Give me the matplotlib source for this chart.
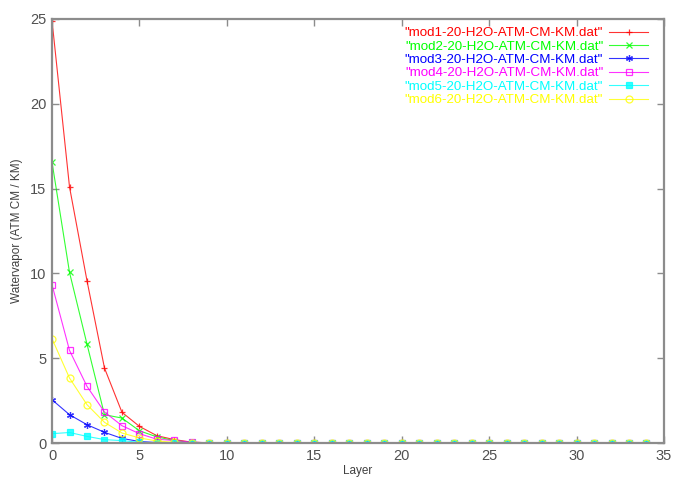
#!/usr/bin/env python3
"""Water vapour density per layer for the six standard atmosphere models."""

import numpy as np
import matplotlib
matplotlib.use("Agg")
import matplotlib.pyplot as plt

plt.rcParams['font.family'] = ['Liberation Sans', 'DejaVu Sans']

layers = np.arange(35)

# values for the lowest layers, everything above is zero
mod1 = [24.9, 15.1, 9.57, 4.42, 1.81, 0.98, 0.43, 0.2, 0.05, 0.01] + [0.0] * 25
mod2 = [16.56, 10.06, 5.83, 1.67, 1.47, 0.72, 0.36, 0.14, 0.04, 0.01] + [0.0] * 25
mod3 = [2.55, 1.67, 1.08, 0.63, 0.27, 0.09, 0.03, 0.01, 0.0, 0.0] + [0.0] * 25
mod4 = [9.33, 5.46, 3.34, 1.83, 1.02, 0.55, 0.22, 0.15, 0.05, 0.01] + [0.0] * 25
mod5 = [0.55, 0.62, 0.39, 0.2, 0.14, 0.04, 0.02, 0.0, 0.0, 0.0] + [0.0] * 25
mod6 = [6.15, 3.83, 2.26, 1.22, 0.59, 0.3, 0.12, 0.04, 0.01, 0.0] + [0.0] * 25

labels = ['"mod%d-20-H2O-ATM-CM-KM.dat"' % i for i in range(1, 7)]
series = [mod1, mod2, mod3, mod4, mod5, mod6]

# gnuplot default line types
styles = [
    dict(color='#ff0000', marker='+', mfc='none'),
    dict(color='#00ff00', marker='x', mfc='none'),
    dict(color='#0000ff', marker=(6, 2, 0), mfc='none'),
    dict(color='#ff00ff', marker='s', mfc='none'),
    dict(color='#00ffff', marker='s'),
    dict(color='#ffff00', marker='o', mfc='none'),
]

fig = plt.figure(figsize=(6.73, 4.83), dpi=100)
ax = fig.add_axes([0.0773, 0.0828, 0.9093, 0.8779])

for vals, lab, st in zip(series, labels, styles):
    ax.plot(layers, vals, lw=0.8, ms=5, mew=0.9, alpha=0.8, label=lab, **st)

ax.set_xlim(0, 35)
ax.set_ylim(0, 25)
ax.set_xticks(np.arange(0, 36, 5))
ax.set_yticks(np.arange(0, 26, 5))

for side in ax.spines.values():
    side.set_color('#8c8c8c')
    side.set_linewidth(1.6)
ax.tick_params(direction='in', length=5, width=1, color='#8c8c8c',
               top=True, right=True, labelsize=10.5, labelcolor='#505050', pad=4)

ax.set_xlabel('Layer', fontsize=8.5, color='#404040', labelpad=2)
ax.set_ylabel('Watervapor (ATM CM / KM)', fontsize=8.5, color='#404040', labelpad=5)

leg = ax.legend(loc='upper right', bbox_to_anchor=(0.977, 0.986), frameon=False,
                markerfirst=False, fontsize=9.6, handlelength=2.9, handletextpad=0.45,
                labelspacing=0.08, borderaxespad=0.0, borderpad=0.15,
                labelcolor='linecolor')

fig.savefig('out.png', dpi=100)
